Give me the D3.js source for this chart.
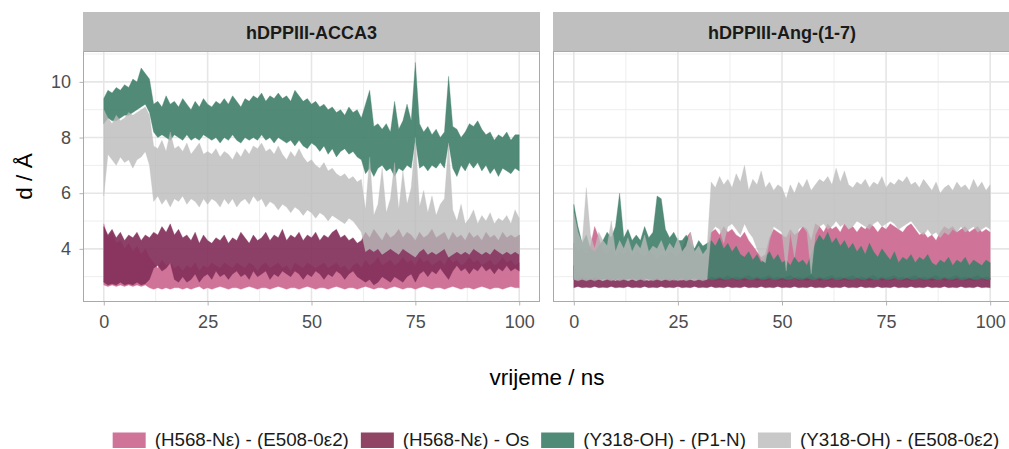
<!DOCTYPE html>
<html><head><meta charset="utf-8">
<script src="https://cdn.jsdelivr.net/npm/d3@7"></script>
<style>body{margin:0;background:#fff;} svg{display:block;font-family:"Liberation Sans",Arial,sans-serif;}</style>
</head><body><svg id="c" width="1009" height="449"></svg>
<script>
// ---------- DATA (envelope of each trajectory per ns) ----------
const panels = ["hDPPIII-ACCA3", "hDPPIII-Ang-(1-7)"];
const seriesNames = ["(H568-N\u03b5) - (E508-0\u03b52)", "(H568-N\u03b5) - Os", "(Y318-OH) - (P1-N)", "(Y318-OH) - (E508-0\u03b52)"];
const seriesColors = ["#D07398", "#8F4563", "#508B78", "#C8C8C8"];
const xTicks = [0, 25, 50, 75, 100];
const yTicks = [4, 6, 8, 10];
const xTitle = "vrijeme / ns";
const yTitle = "d / \u00c5";

const time = [0,1,2,3,4,5,6,7,8,9,10,11,12,13,14,15,16,17,18,19,20,21,22,23,24,25,26,27,28,29,30,31,32,33,34,35,36,37,38,39,40,41,42,43,44,45,46,47,48,49,50,51,52,53,54,55,56,57,58,59,60,61,62,63,64,65,66,67,68,69,70,71,72,73,74,75,76,77,78,79,80,81,82,83,84,85,86,87,88,89,90,91,92,93,94,95,96,97,98,99,100];

// hDPPIII-ACCA3
const acca_pink_hi = [4.9,4.4,4.6,4.2,4.3,4.0,4.2,3.9,4.1,3.8,4.0,3.7,3.5,3.3,3.6,3.4,3.5,3.3,3.4,3.2,
 3.4,3.3,3.5,3.2,3.4,3.3,3.5,3.4,3.3,3.5,3.4,3.3,3.5,3.4,3.3,3.5,3.4,3.2,3.4,3.5,
 3.3,3.4,3.5,3.3,3.4,3.2,3.5,3.4,3.3,3.5,3.4,3.3,3.4,3.5,3.3,3.4,3.5,3.3,3.4,3.2,
 3.4,3.5,3.3,3.6,3.4,3.5,3.7,3.4,3.5,3.6,3.4,3.5,3.7,3.5,3.6,3.4,3.7,3.5,3.6,3.4,
 3.5,3.6,3.4,3.7,3.5,3.6,3.4,3.5,3.7,3.5,3.6,3.4,3.5,3.6,3.4,3.5,3.7,3.5,3.6,3.4,3.5];
const acca_pink_lo = [2.7,2.65,2.7,2.65,2.7,2.65,2.7,2.65,2.7,2.65,2.7,2.6,2.55,2.6,2.55,2.6,2.55,2.6,2.6,2.55,
 2.6,2.55,2.6,2.65,2.55,2.6,2.55,2.6,2.65,2.6,2.55,2.6,2.6,2.55,2.6,2.65,2.6,2.55,2.6,2.6,
 2.55,2.6,2.65,2.6,2.55,2.6,2.6,2.55,2.6,2.65,2.6,2.55,2.6,2.6,2.55,2.6,2.65,2.6,2.55,2.6,
 2.6,2.55,2.6,2.65,2.6,2.55,2.6,2.6,2.55,2.6,2.65,2.6,2.55,2.6,2.6,2.55,2.6,2.65,2.6,2.55,
 2.6,2.6,2.55,2.6,2.65,2.6,2.55,2.6,2.6,2.55,2.6,2.65,2.6,2.55,2.6,2.6,2.55,2.6,2.65,2.6,2.6];
const acca_maroon_hi = [4.8,4.5,4.7,4.4,4.6,4.3,4.5,4.4,4.6,4.3,4.5,4.4,4.6,4.5,4.8,4.6,4.9,4.5,4.7,4.4,
 4.5,4.3,4.6,4.2,4.5,4.3,4.2,4.4,4.3,4.5,4.2,4.4,4.3,4.6,4.4,4.2,4.5,4.3,4.4,4.6,
 4.3,4.5,4.4,4.7,4.3,4.5,4.4,4.6,4.3,4.5,4.4,4.6,4.3,4.5,4.4,4.6,4.7,4.4,4.5,4.3,
 4.4,4.2,4.3,4.6,4.4,4.7,4.5,4.3,4.6,4.4,4.5,4.7,4.4,4.6,4.5,4.3,4.6,4.4,4.5,4.7,
 4.4,4.5,4.6,4.3,4.6,4.4,4.5,4.3,4.6,4.4,4.5,4.3,4.6,4.4,4.5,4.3,4.6,4.4,4.5,4.4,4.5];
const acca_maroon_lo = [2.8,2.7,2.75,2.7,2.8,2.7,2.75,2.7,2.8,2.7,2.75,2.9,3.3,3.4,3.2,3.3,3.5,2.9,2.8,3.0,
 2.8,2.9,3.1,2.8,3.0,3.1,2.9,3.2,3.0,3.1,2.9,3.1,3.2,3.0,3.1,2.9,3.2,3.0,3.1,3.2,
 2.9,3.1,3.0,3.2,3.1,3.0,3.2,3.1,2.9,3.1,3.0,3.2,3.1,2.9,3.1,3.0,3.2,3.1,2.9,3.1,
 3.2,3.0,2.9,2.8,2.9,2.7,2.8,3.0,2.9,2.8,3.0,2.9,2.8,3.0,3.1,2.8,3.1,3.2,3.0,3.2,
 3.1,3.3,3.1,2.9,3.2,3.4,3.2,3.3,3.1,3.3,3.2,3.4,3.2,3.3,3.1,3.3,3.2,3.4,3.2,3.3,3.2];
const acca_green_hi = [9.4,9.7,9.6,9.8,9.7,9.9,9.8,10.1,10.0,10.5,10.3,10.1,9.2,9.3,9.1,9.5,9.2,9.3,9.1,9.4,
 9.2,9.0,9.3,9.1,9.4,9.2,9.1,9.3,9.2,9.4,9.2,9.5,9.3,9.1,9.4,9.3,9.5,9.4,9.6,9.3,
 9.5,9.4,9.6,9.4,9.5,9.3,9.7,9.5,9.3,9.4,9.2,9.3,9.1,9.2,9.0,9.1,8.9,9.0,8.8,9.1,
 8.9,9.0,8.7,9.2,9.7,8.4,8.5,8.3,8.5,8.2,9.3,8.3,8.6,9.2,8.6,10.7,8.5,8.2,8.4,8.1,
 8.3,8.0,8.2,10.2,8.4,8.3,8.0,8.2,8.5,8.4,8.6,8.3,8.1,8.2,7.9,8.1,8.0,8.2,7.9,8.1,8.1];
const acca_green_lo = [8.5,8.7,8.6,8.6,8.7,8.8,8.8,8.9,9.0,9.1,9.2,8.9,8.2,8.0,8.1,8.0,7.9,8.1,8.0,7.9,
 8.1,7.9,8.0,7.9,8.1,8.0,7.9,8.0,7.8,8.0,7.9,8.1,7.9,7.8,8.0,7.9,8.0,7.9,8.1,7.9,
 8.0,7.8,8.0,7.9,7.8,7.9,7.7,7.9,7.7,7.6,7.8,7.7,7.5,7.7,7.4,7.6,7.3,7.5,7.6,7.4,
 7.5,7.3,7.2,6.7,6.9,6.6,6.9,7.0,6.8,6.9,6.6,6.9,6.8,7.0,6.9,7.9,6.9,7.0,6.8,7.0,
 6.9,7.1,6.9,7.8,6.9,6.6,7.0,6.8,7.1,6.9,7.1,6.8,7.0,6.7,6.9,6.6,6.9,6.8,6.7,6.9,6.8];
const acca_grey_hi = [9.0,8.7,8.5,8.8,8.6,8.7,8.9,8.8,8.9,9.0,9.1,8.8,7.7,7.6,7.9,7.5,8.2,7.6,7.7,7.5,
 7.8,7.4,7.6,7.8,7.4,7.5,7.4,7.6,7.3,7.5,7.4,7.2,7.5,7.3,7.6,7.4,7.7,7.6,7.8,7.5,
 7.6,7.4,7.7,7.4,7.2,7.5,7.3,7.6,7.3,7.1,7.2,7.0,6.9,7.1,6.8,6.9,6.7,6.6,6.7,6.5,
 6.6,6.4,6.5,5.4,7.3,5.2,5.6,6.9,5.3,5.8,7.1,5.4,6.8,5.6,6.2,8.0,5.5,6.1,5.3,5.9,
 5.2,5.6,5.8,7.8,5.4,5.0,5.6,4.9,5.1,5.4,4.9,5.2,5.0,5.3,4.9,5.1,5.0,5.2,4.9,5.4,5.1];
const acca_grey_lo = [5.9,7.4,7.2,7.0,7.3,7.1,7.2,6.9,7.2,7.3,7.5,7.0,5.7,5.9,5.6,5.8,5.5,5.8,5.7,5.9,
 5.6,5.8,5.7,5.5,5.8,5.6,5.8,5.7,5.5,5.8,5.6,5.8,5.5,5.7,5.8,5.6,5.9,5.7,5.8,5.5,
 5.7,5.6,5.4,5.6,5.5,5.3,5.5,5.4,5.2,5.4,5.3,5.1,5.3,5.2,5.0,5.2,5.1,5.0,4.9,5.1,
 5.0,4.8,4.6,3.9,4.0,3.9,4.0,3.8,3.9,4.0,3.9,3.8,4.0,3.9,3.8,3.7,3.9,4.0,3.8,3.9,
 3.8,3.9,4.0,3.7,3.8,3.9,3.8,3.9,3.8,4.0,3.9,3.8,3.9,3.8,4.0,3.9,3.8,3.9,3.8,3.9,3.8];

// hDPPIII-Ang-(1-7)
const ang_pink_hi = [4.2,3.9,4.0,3.8,4.1,4.8,4.4,3.9,3.8,4.0,3.7,3.9,3.8,4.0,3.7,3.9,3.8,3.7,3.9,3.8,
 3.6,3.8,3.7,3.9,3.8,3.7,4.0,4.4,4.6,3.9,3.8,3.7,3.9,4.6,4.7,4.5,4.8,4.6,4.7,4.5,
 4.4,4.6,4.3,4.1,3.9,3.7,3.8,4.4,4.7,4.6,4.5,4.4,4.7,4.5,4.6,4.8,4.7,4.3,4.9,4.8,
 4.6,4.9,4.7,4.8,4.6,4.9,4.7,4.8,4.6,4.8,4.7,4.9,4.8,4.6,4.8,4.7,4.9,4.8,4.7,4.6,
 4.8,4.9,4.7,4.5,4.6,4.4,4.5,4.3,4.6,4.8,4.7,4.8,4.6,4.7,4.8,4.6,4.7,4.8,4.6,4.7,4.6];
const ang_pink_lo = [2.9,2.85,2.9,2.95,2.85,2.9,2.85,2.9,2.95,2.85,2.9,2.85,2.9,2.95,2.85,2.9,2.85,2.9,2.95,2.85,
 2.9,2.85,2.9,2.95,2.85,2.9,2.85,2.9,2.95,2.85,2.9,2.85,2.9,2.95,2.85,2.9,2.85,2.9,2.95,2.85,
 2.9,2.85,2.9,2.95,2.85,2.9,2.85,2.9,2.95,2.85,2.9,2.85,2.9,2.95,2.85,2.9,2.85,2.9,2.95,2.85,
 2.9,2.85,2.9,2.95,2.85,2.9,2.85,2.9,2.95,2.85,2.9,2.85,2.9,2.95,2.85,2.9,2.85,2.9,2.95,2.85,
 2.9,2.85,2.9,2.95,2.85,2.9,2.85,2.9,2.95,2.85,2.9,2.85,2.9,2.95,2.85,2.9,2.85,2.9,2.95,2.85,2.9];
const ang_maroon_hi = [3.4,3.1,3.0,2.95,2.9,3.0,2.9,2.85,2.95,2.9,2.85,2.9,2.95,2.85,2.9,2.85,2.95,2.9,2.85,2.9,
 2.95,2.85,2.9,2.95,2.85,2.9,2.85,2.95,2.9,2.85,2.9,2.95,2.9,3.0,2.95,3.0,2.95,3.05,2.95,3.0,
 2.95,3.0,3.05,2.95,3.0,2.95,3.0,3.05,2.95,3.0,2.95,3.0,3.05,2.95,3.0,2.95,3.0,3.05,2.95,3.0,
 2.95,3.0,3.05,2.95,3.0,2.95,3.0,3.05,2.95,3.0,2.95,3.0,3.05,2.95,3.0,2.95,3.0,3.05,2.95,3.0,
 2.95,3.0,3.05,2.95,3.0,2.95,3.0,3.05,2.95,3.0,2.95,3.0,3.05,2.95,3.0,2.95,3.0,3.05,2.95,3.0,2.95];
const ang_maroon_lo = [2.6,2.65,2.6,2.62,2.6,2.65,2.6,2.62,2.6,2.65,2.6,2.62,2.6,2.65,2.6,2.62,2.6,2.65,2.6,2.62,
 2.6,2.65,2.6,2.62,2.6,2.65,2.6,2.62,2.6,2.65,2.6,2.62,2.6,2.65,2.6,2.62,2.6,2.65,2.6,2.62,
 2.6,2.65,2.6,2.62,2.6,2.65,2.6,2.62,2.6,2.65,2.6,2.62,2.6,2.65,2.6,2.62,2.6,2.65,2.6,2.62,
 2.6,2.65,2.6,2.62,2.6,2.65,2.6,2.62,2.6,2.65,2.6,2.62,2.6,2.65,2.6,2.62,2.6,2.65,2.6,2.62,
 2.6,2.65,2.6,2.62,2.6,2.65,2.6,2.62,2.6,2.65,2.6,2.62,2.6,2.65,2.6,2.62,2.6,2.65,2.6,2.62,2.6];
const ang_green_hi = [5.6,4.8,4.2,4.5,4.0,3.9,4.1,4.3,4.6,4.4,4.8,6.0,4.4,4.7,4.3,4.5,4.3,4.8,4.4,4.6,
 5.9,5.8,4.7,4.4,4.6,4.3,4.3,4.5,4.2,4.0,4.3,4.1,4.2,4.3,4.1,4.4,4.0,4.2,3.9,4.1,
 3.8,3.7,3.9,3.6,3.8,3.5,3.7,3.9,3.6,3.8,3.5,3.6,3.4,3.7,3.5,3.6,3.4,3.8,4.2,4.5,
 4.3,4.6,4.2,4.4,4.1,4.3,4.0,4.2,3.9,4.1,3.8,4.2,3.9,3.7,4.0,3.8,3.6,3.9,3.5,3.7,
 3.6,3.8,3.5,3.7,3.6,3.8,3.5,3.4,3.6,3.5,3.7,3.4,3.6,3.5,3.7,3.4,3.6,3.5,3.4,3.6,3.5];
const ang_green_lo = [2.9,2.9,2.95,2.9,2.9,2.95,2.9,2.9,2.95,2.9,2.9,2.95,2.9,2.9,2.95,2.9,2.9,2.95,2.9,2.9,
 2.95,2.9,2.9,2.95,2.9,2.9,2.95,2.9,2.9,2.95,2.9,2.9,2.95,2.9,2.9,2.95,2.9,2.9,2.95,2.9,
 2.9,2.95,2.9,2.9,2.95,2.9,2.9,2.95,2.9,2.9,2.95,2.9,2.9,2.95,2.9,2.9,2.95,2.9,2.9,2.95,
 2.9,2.9,2.95,2.9,2.9,2.95,2.9,2.9,2.95,2.9,2.9,2.95,2.9,2.9,2.95,2.9,2.9,2.95,2.9,2.9,
 2.95,2.9,2.9,2.95,2.9,2.9,2.95,2.9,2.9,2.95,2.9,2.9,2.95,2.9,2.9,2.95,2.9,2.9,2.95,2.9,2.9];
const ang_grey_hi = [5.3,4.6,4.2,6.2,4.5,4.0,4.6,4.3,4.1,5.0,3.9,4.3,4.0,4.4,3.9,4.2,4.0,4.5,3.9,4.1,
 4.0,4.3,3.9,4.2,4.0,4.4,3.9,4.1,4.6,3.9,4.1,3.8,4.0,6.4,6.2,6.6,6.3,6.5,6.2,6.7,
 6.4,7.0,6.1,6.5,6.3,6.8,6.2,6.4,6.1,6.3,6.2,5.8,6.3,6.0,6.4,6.2,6.5,6.1,6.3,6.5,
 6.4,6.6,6.3,6.9,6.4,6.8,6.3,6.2,6.4,6.3,6.5,6.2,6.4,6.3,6.6,6.2,6.4,6.3,6.5,6.4,
 6.6,6.3,6.4,6.2,6.5,6.3,6.1,6.4,6.0,6.2,6.3,6.1,6.4,6.2,6.3,6.1,6.5,6.2,6.4,6.1,6.3];
const ang_grey_lo = [2.9,2.85,2.9,2.85,2.9,2.85,2.9,2.85,2.9,2.85,2.9,2.85,2.9,2.85,2.9,2.85,2.9,2.85,2.9,2.85,
 2.9,2.85,2.9,2.85,2.9,2.85,2.9,2.85,2.9,2.85,2.9,2.85,2.9,4.6,4.8,4.7,4.2,4.8,4.9,4.7,
 4.5,4.9,4.6,4.4,4.0,3.6,3.5,4.3,4.8,4.7,4.6,3.2,4.6,3.7,4.7,4.8,4.6,3.1,4.5,4.8,
 4.9,4.7,4.8,5.0,4.8,4.9,4.7,4.8,5.0,4.9,4.8,4.7,4.9,5.0,4.8,4.9,5.0,4.9,4.7,4.8,
 4.9,5.0,4.8,4.6,4.5,4.7,4.5,4.6,4.4,4.6,4.5,4.7,4.6,4.8,4.6,4.7,4.8,4.6,4.7,4.8,4.7];

// ---------- build table ----------
const bands = [
  [[acca_pink_lo, acca_pink_hi], [acca_maroon_lo, acca_maroon_hi], [acca_green_lo, acca_green_hi], [acca_grey_lo, acca_grey_hi]],
  [[ang_pink_lo, ang_pink_hi], [ang_maroon_lo, ang_maroon_hi], [ang_green_lo, ang_green_hi], [ang_grey_lo, ang_grey_hi]]
];

// ---------- layout ----------
const W = 1009, H = 449;
const panelX = [[83, 540], [553, 1011]];
const panelTop = 51, panelBottom = 302, stripTop = 12;
const fills = ["#D07398", "#82305A", "#3E7E69", "#BABABA"];
const fillOpacity = [1, 0.92, 0.9, 0.8];

const svg = d3.select("#c");
svg.append("rect").attr("width", W).attr("height", H).attr("fill", "#fff");
const defs = svg.append("defs");

const y = d3.scaleLinear().domain([2.09, 11.11]).range([panelBottom, panelTop]);
const yMinor = [3, 5, 7, 9, 11];
const xMinor = [12.5, 37.5, 62.5, 87.5];

panels.forEach((pname, pi) => {
  const [x0, x1] = panelX[pi];
  const x = d3.scaleLinear().domain([-5, 105]).range([x0, x1]);
  const g = svg.append("g");
  g.append("rect").attr("x", x0).attr("y", panelTop).attr("width", x1 - x0).attr("height", panelBottom - panelTop).attr("fill", "#fff");
  // grid
  g.selectAll(".ymin").data(yMinor).join("line").attr("x1", x0).attr("x2", x1)
    .attr("y1", d => y(d)).attr("y2", d => y(d)).attr("stroke", "#eeeeee").attr("stroke-width", 1);
  g.selectAll(".xmin").data(xMinor).join("line").attr("y1", panelTop).attr("y2", panelBottom)
    .attr("x1", d => x(d)).attr("x2", d => x(d)).attr("stroke", "#eeeeee").attr("stroke-width", 1);
  g.selectAll(".ymaj").data(yTicks).join("line").attr("x1", x0).attr("x2", x1)
    .attr("y1", d => y(d)).attr("y2", d => y(d)).attr("stroke", "#e6e6e6").attr("stroke-width", 1.6);
  g.selectAll(".xmaj").data(xTicks).join("line").attr("y1", panelTop).attr("y2", panelBottom)
    .attr("x1", d => x(d)).attr("x2", d => x(d)).attr("stroke", "#e6e6e6").attr("stroke-width", 1.6);

  // clip
  const cid = "clip" + pi;
  defs.append("clipPath").attr("id", cid).append("rect").attr("x", x0).attr("y", panelTop).attr("width", x1 - x0).attr("height", panelBottom - panelTop);
  const dg = g.append("g").attr("clip-path", `url(#${cid})`);
  bands[pi].forEach(([lo, hi], si) => {
    const rows = time.map((t, i) => ({ t, lo: lo[i], hi: hi[i] }));
    const area = d3.area().x(d => x(d.t)).y0(d => y(d.lo)).y1(d => y(d.hi)).curve(d3.curveLinear);
    dg.append("path").datum(rows).attr("d", area)
      .attr("fill", fills[si]).attr("fill-opacity", fillOpacity[si])
      .attr("stroke", fills[si]).attr("stroke-opacity", fillOpacity[si] * 0.6).attr("stroke-width", 0.6);
  });

  // border
  g.append("rect").attr("x", x0 + 0.5).attr("y", panelTop + 0.5).attr("width", x1 - x0 - 1).attr("height", panelBottom - panelTop - 1)
    .attr("fill", "none").attr("stroke", "#a9a9a9").attr("stroke-width", 1);
  // strip
  g.append("rect").attr("x", x0).attr("y", stripTop).attr("width", x1 - x0).attr("height", panelTop - stripTop).attr("fill", "#bfbfbf");
  g.append("text").attr("x", (x0 + x1) / 2).attr("y", 38.5).attr("text-anchor", "middle")
    .attr("font-size", 18).attr("font-weight", "bold").attr("fill", "#1a1a1a").text(pname);

  // x axis
  const ax = g.append("g").attr("transform", `translate(0,${panelBottom})`)
    .call(d3.axisBottom(x).tickValues(xTicks).tickSize(3.5).tickPadding(10).tickFormat(d3.format("d")));
  ax.select(".domain").remove();
  ax.selectAll("line").attr("stroke", "#b3b3b3");
  ax.selectAll("text").attr("font-size", 18).attr("fill", "#4d4d4d").attr("font-family", "Liberation Sans, Arial, sans-serif");

  if (pi === 0) {
    const ay = g.append("g").attr("transform", `translate(${x0},0)`)
      .call(d3.axisLeft(y).tickValues(yTicks).tickSize(3.5).tickPadding(8.5).tickFormat(d3.format("d")));
    ay.select(".domain").remove();
    ay.selectAll("line").attr("stroke", "#b3b3b3");
    ay.selectAll("text").attr("font-size", 18).attr("fill", "#4d4d4d").attr("font-family", "Liberation Sans, Arial, sans-serif");
  }
});

// axis titles
svg.append("text").attr("x", (panelX[0][0] + panelX[1][1]) / 2).attr("y", 385).attr("text-anchor", "middle")
  .attr("font-size", 22.5).attr("fill", "#000").text(xTitle);
svg.append("text").attr("transform", `translate(32,${(panelTop + panelBottom) / 2}) rotate(-90)`).attr("text-anchor", "middle")
  .attr("font-size", 22.5).attr("fill", "#000").text(yTitle);

// legend
const lg = svg.append("g");
const keyW = 33, keyH = 15.5, keyGap = 9, itemGap = 12, legY = 432.5;
const items = seriesNames.map((name, i) => {
  const it = lg.append("g");
  it.append("rect").attr("width", keyW).attr("height", keyH).attr("y", legY).attr("fill", seriesColors[i]);
  const tx = it.append("text").attr("x", keyW + keyGap).attr("y", 446).attr("font-size", 18.8).attr("fill", "#1a1a1a").text(name);
  return { it, w: keyW + keyGap + tx.node().getComputedTextLength() };
});
const total = d3.sum(items, d => d.w) + itemGap * (items.length - 1);
let cx = 556 - total / 2;
items.forEach(d => { d.it.attr("transform", `translate(${cx},0)`); cx += d.w + itemGap; });
</script>
</body></html>
